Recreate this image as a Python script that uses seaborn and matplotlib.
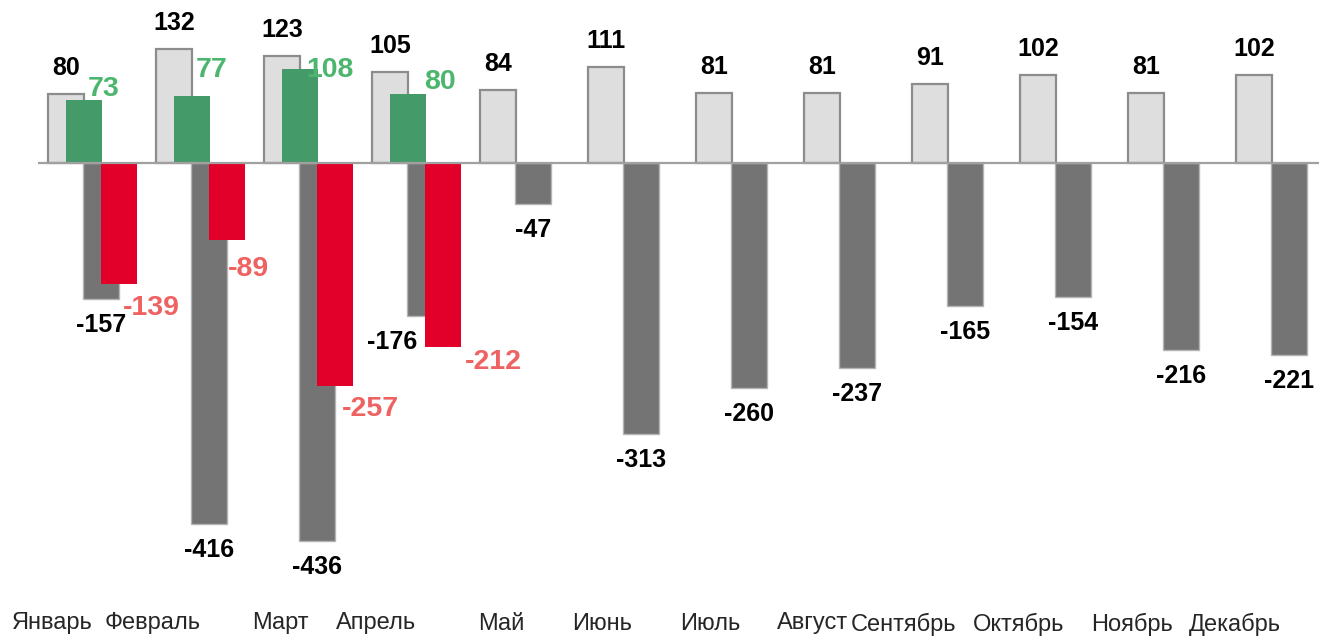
import numpy as np
import pandas as pd
import matplotlib
matplotlib.use("Agg")
import matplotlib.pyplot as plt
import seaborn as sns

# data
#--------------------------------------
months = ['Январь', 'Февраль', 'Март', 'Апрель', 'Май', 'Июнь',
          'Июль', 'Август', 'Сентябрь', 'Октябрь', 'Ноябрь', 'Декабрь']
prev_pos = [80, 132, 123, 105, 84, 111, 81, 81, 91, 102, 81, 102]
prev_neg = [-157, -416, -436, -176, -47, -313, -260, -237, -165, -154, -216, -221]
cur_pos = [73, 77, 108, 80]
cur_neg = [-139, -89, -257, -212]

# label nudges in pixels (dx, dy), only for placement
green_nudge = [(20, 11), (20, 26), (30, -1), (32, 12)]
red_nudge = [(32, -24), (21, -29), (35, -23), (50, -15)]
dark_dx = [0, 0, 0, -33, 0, 0, 0, 0, 0, 0, 0, 0]

# colours
c_light, c_light_edge = '#DEDEDE', '#8C8C8C'
c_green, c_green_txt = '#449A68', '#4CB56E'
c_dark, c_dark_edge = '#747474', '#B4B4B4'
c_red, c_red_txt = '#E2002B', '#EE6262'

off = [-0.245, -0.08, 0.08, 0.245]
bw = 0.335

sns.set_theme(style='white')
plt.rcParams['font.family'] = ['Liberation Sans', 'DejaVu Sans']

fig = plt.figure(figsize=(13.19, 6.37), dpi=100)
ax = fig.add_axes([38 / 1319, 37 / 637, 1 - 38 / 1319, 600 / 637])

idx = np.arange(len(months))
df_lp = pd.DataFrame({'x': idx + off[0], 'v': prev_pos})
df_gp = pd.DataFrame({'x': idx[:len(cur_pos)] + off[1], 'v': cur_pos})
df_dn = pd.DataFrame({'x': idx + off[2], 'v': prev_neg})
df_rn = pd.DataFrame({'x': idx[:len(cur_neg)] + off[3], 'v': cur_neg})

sns.barplot(data=df_lp, x='x', y='v', native_scale=True, width=bw, color=c_light,
            saturation=1, errorbar=None, edgecolor=c_light_edge, linewidth=1.6, ax=ax)
sns.barplot(data=df_gp, x='x', y='v', native_scale=True, width=bw, color=c_green,
            saturation=1, errorbar=None, linewidth=0, ax=ax)
sns.barplot(data=df_dn, x='x', y='v', native_scale=True, width=bw, color=c_dark,
            saturation=1, errorbar=None, edgecolor=c_dark_edge, linewidth=1.0, ax=ax)
sns.barplot(data=df_rn, x='x', y='v', native_scale=True, width=bw, color=c_red,
            saturation=1, errorbar=None, linewidth=0, ax=ax)

ax.axhline(0, color='#A0A0A0', lw=1.6, zorder=3)

px = 0.72  # pixels -> points
for i, v in enumerate(prev_pos):
    ax.annotate(str(v), (i + off[0], v), xytext=(0, 26 * px), textcoords='offset points',
                ha='center', va='center', fontsize=18, fontweight='bold', color='black')
for i, v in enumerate(prev_neg):
    ax.annotate(str(v), (i + off[2], v), xytext=(dark_dx[i] * px, -26 * px), textcoords='offset points',
                ha='center', va='center', fontsize=18, fontweight='bold', color='black')
for i, v in enumerate(cur_pos):
    dx, dy = green_nudge[i]
    ax.annotate(str(v), (i + off[1], v), xytext=(dx * px, dy * px), textcoords='offset points',
                ha='center', va='center', fontsize=20.5, fontweight='bold', color=c_green_txt)
for i, v in enumerate(cur_neg):
    dx, dy = red_nudge[i]
    ax.annotate(str(v), (i + off[3], v), xytext=(dx * px, dy * px), textcoords='offset points',
                ha='center', va='center', fontsize=20.5, fontweight='bold', color=c_red_txt)

ax.set_xlim((38 - 92.5) / 108, (1319 - 92.5) / 108)
ax.set_ylim(-(600 - 163) / 0.867, 163 / 0.867)
ax.set_xticks(idx)
ax.set_xticklabels(months, ha='right', fontsize=17)
ax.tick_params(axis='x', length=0, pad=9)
ax.set_yticks([])
ax.set_xlabel('')
ax.set_ylabel('')
for s in ax.spines.values():
    s.set_visible(False)

plt.savefig('out.png', dpi=100)
